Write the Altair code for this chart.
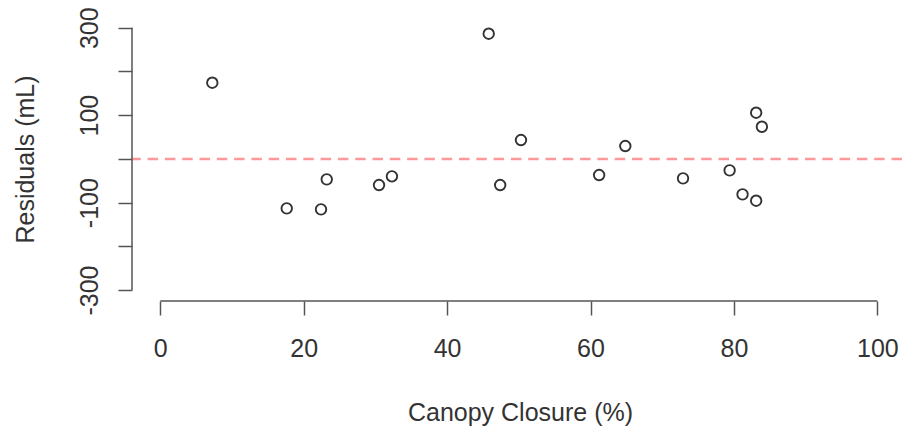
import altair as alt
import pandas as pd

# Data
canopy = [7.25, 17.63, 22.41, 23.21, 30.5, 32.3, 45.8, 47.4, 50.3, 61.2, 64.85, 72.9, 79.4, 81.2, 83.1, 83.1, 83.9]
resid = [174.2, -113.1, -115.4, -46.8, -59.8, -39.9, 286.3, -59.8, 43.1, -36.9, 29.4, -44.5, -26.2, -81.1, 105.6, -95.7, 73.5]

x_ticks = [0, 20, 40, 60, 80, 100]
y_ticks = [-300, -200, -100, 0, 100, 200, 300]
x_axis_span = [0, 100]
y_axis_span = [-300, 300]
x_domain = [-3.95, 103.44]
y_domain = [-325, 324.5]
ref_line = [0]

FONT = "Liberation Sans"
TXT = "#333333"
AX = "#555555"

df = pd.DataFrame({"x": canopy, "y": resid})

xscale = alt.Scale(domain=x_domain, nice=False, zero=False)
yscale = alt.Scale(domain=y_domain, nice=False, zero=False)

points = alt.Chart(df).mark_point(
    shape="circle", filled=False, size=110, strokeWidth=1.9, color="#333333", opacity=1
).encode(
    x=alt.X("x:Q", scale=xscale, title="Canopy Closure (%)",
            axis=alt.Axis(values=x_ticks, domain=False, grid=False, tickSize=14, tickWidth=1.5,
                          tickColor=AX, labelFont=FONT, labelFontSize=25, labelColor=TXT,
                          labelBaseline="alphabetic", labelPadding=41, labelFlush=False,
                          labelOverlap=False, titleFont=FONT, titleFontSize=25,
                          titleFontWeight="normal", titleColor=TXT, titleX=388, titleY=119,
                          titleAlign="center", titleBaseline="alphabetic")),
    y=alt.Y("y:Q", scale=yscale, title="Residuals (mL)",
            axis=alt.Axis(values=y_ticks, domain=False, grid=False, tickSize=14, tickWidth=1.5,
                          tickColor=AX, labelFont=FONT, labelFontSize=25, labelColor=TXT,
                          labelAngle=270, labelAlign="center", labelBaseline="alphabetic",
                          labelPadding=21, labelFlush=False, labelOverlap=False,
                          labelExpr="datum.value % 200 == 0 ? '' : '' + datum.value",
                          titleFont=FONT, titleFontSize=25, titleFontWeight="normal",
                          titleColor=TXT, titleAngle=270, titleX=-99, titleY=142,
                          titleAlign="center", titleBaseline="alphabetic")),
)

hline = alt.Chart(pd.DataFrame({"y": ref_line})).mark_rule(
    color="#ff9999", strokeWidth=2.5, strokeDash=[10.5, 6.8]
).encode(y=alt.Y("y:Q", scale=yscale))

xaxis_line = alt.Chart(pd.DataFrame({"a": [x_axis_span[0]], "b": [x_axis_span[1]], "c": [y_domain[0]]})).mark_rule(
    color=AX, strokeWidth=1.5
).encode(x=alt.X("a:Q", scale=xscale), x2="b:Q", y=alt.Y("c:Q", scale=yscale))

yaxis_line = alt.Chart(pd.DataFrame({"a": [y_axis_span[0]], "b": [y_axis_span[1]], "c": [x_domain[0]]})).mark_rule(
    color=AX, strokeWidth=1.5
).encode(y=alt.Y("a:Q", scale=yscale), y2="b:Q", x=alt.X("c:Q", scale=xscale))

chart = alt.layer(hline, xaxis_line, yaxis_line, points).properties(
    width=770, height=284,
    autosize=alt.AutoSizeParams(type="none"),
    padding={"left": 132, "top": 17, "right": 0, "bottom": 130},
    background="white",
).configure_view(stroke=None)

chart.save("out.html", embed_options={"renderer": "svg", "actions": False})
